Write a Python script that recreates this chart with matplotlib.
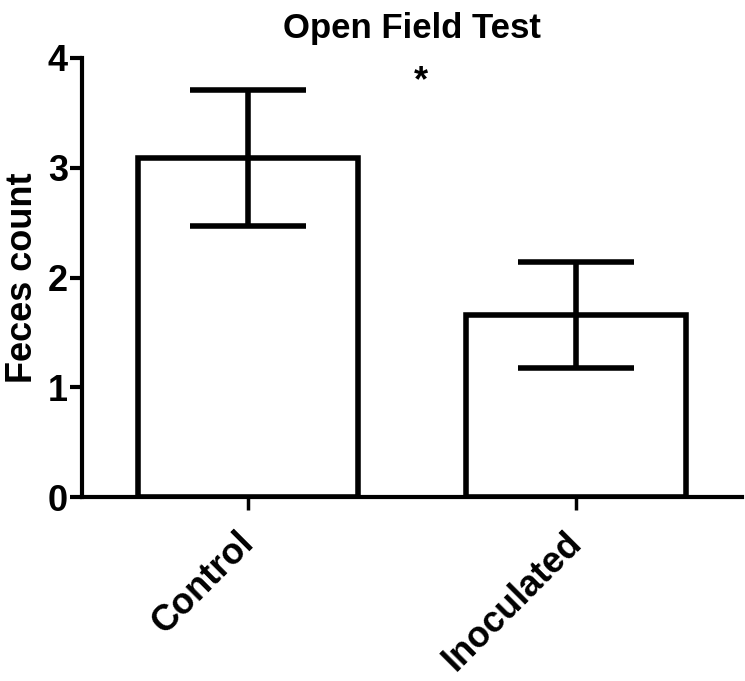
import matplotlib
matplotlib.use('Agg')
import matplotlib.pyplot as plt
import matplotlib.transforms as mtransforms

# data
groups = ['Control', 'Inoculated']
means = [3.09, 1.66]
sem = [0.62, 0.48]

plt.rcParams['font.family'] = ['Liberation Sans', 'DejaVu Sans']
plt.rcParams['font.weight'] = 'bold'

fig = plt.figure(figsize=(7.45, 6.81), dpi=100)
ax = fig.add_axes([0.110, 0.270, 0.886, 0.645])

x = range(len(groups))
ax.bar(x, means, width=0.67, color='white', edgecolor='black', linewidth=4, zorder=2)
eb = ax.errorbar(x, means, yerr=sem, fmt='none', ecolor='black', elinewidth=4,
                 capsize=42, capthick=4, zorder=3)
for ln in eb.lines[1]:
    ln.set_solid_capstyle('round')

# significance mark
ax.text(0.526, 3.78, '*', ha='center', va='center', fontsize=26, fontweight='bold')

ax.set_xlim(-0.505, 1.505)
ax.set_ylim(0, 4)
ax.set_yticks([0, 1, 2, 3, 4])
ax.set_xticks(list(x))
ax.set_xticklabels(groups, rotation=45, ha='right', rotation_mode='anchor', fontsize=26)
ax.tick_params(axis='y', labelsize=26, width=3, length=9, pad=1)
ax.tick_params(axis='x', width=2.5, length=9, pad=8)
# nudge x labels a bit left/down
shift = mtransforms.ScaledTranslation(-12 / 100, -4 / 100, fig.dpi_scale_trans)
for lab in ax.get_xticklabels():
    lab.set_transform(lab.get_transform() + shift)
for s in ['top', 'right']:
    ax.spines[s].set_visible(False)
for s in ['left', 'bottom']:
    ax.spines[s].set_linewidth(3)

ax.set_ylabel('Feces count', fontsize=26, fontweight='bold', labelpad=6)
ax.set_title('Open Field Test', fontsize=25, fontweight='bold', pad=14)

fig.savefig('out.png', dpi=100)
